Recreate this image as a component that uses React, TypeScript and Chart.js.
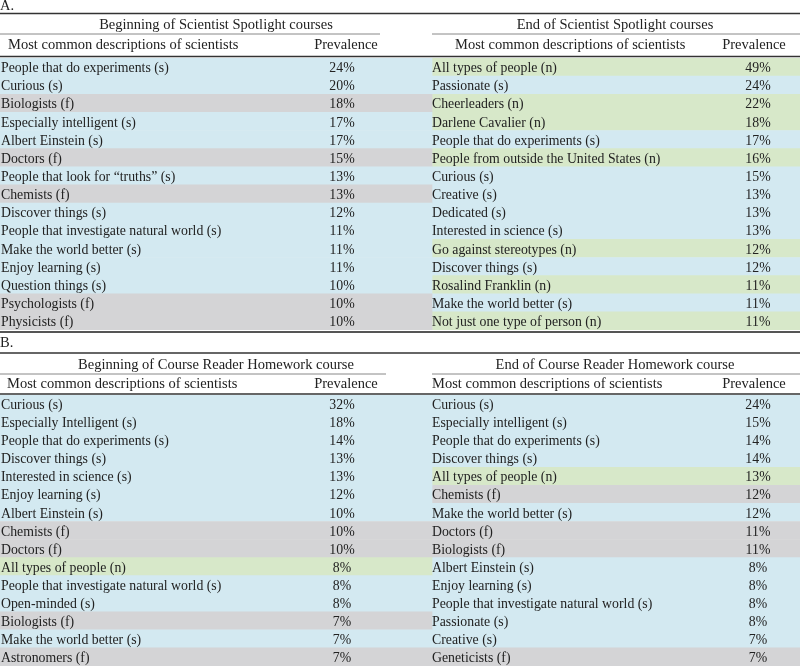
import React, { useEffect, useRef } from "react";
import { Chart, registerables } from "chart.js";

Chart.register(...registerables);

// ---------- DATA ----------
const panelALeftTitle = "Beginning of Scientist Spotlight courses";
const panelALeftLabels = [
  "People that do experiments (s)",
  "Curious (s)",
  "Biologists (f)",
  "Especially intelligent (s)",
  "Albert Einstein (s)",
  "Doctors (f)",
  "People that look for \u201Ctruths\u201D (s)",
  "Chemists (f)",
  "Discover things (s)",
  "People that investigate natural world (s)",
  "Make the world better (s)",
  "Enjoy learning (s)",
  "Question things (s)",
  "Psychologists (f)",
  "Physicists (f)",
];
const panelALeftValues = [24, 20, 18, 17, 17, 15, 13, 13, 12, 11, 11, 11, 10, 10, 10];

const panelARightTitle = "End of Scientist Spotlight courses";
const panelARightLabels = [
  "All types of people (n)",
  "Passionate (s)",
  "Cheerleaders (n)",
  "Darlene Cavalier (n)",
  "People that do experiments (s)",
  "People from outside the United States (n)",
  "Curious (s)",
  "Creative (s)",
  "Dedicated (s)",
  "Interested in science (s)",
  "Go against stereotypes (n)",
  "Discover things (s)",
  "Rosalind Franklin (n)",
  "Make the world better (s)",
  "Not just one type of person (n)",
];
const panelARightValues = [49, 24, 22, 18, 17, 16, 15, 13, 13, 13, 12, 12, 11, 11, 11];

const panelBLeftTitle = "Beginning of Course Reader Homework course";
const panelBLeftLabels = [
  "Curious (s)",
  "Especially Intelligent (s)",
  "People that do experiments (s)",
  "Discover things (s)",
  "Interested in science (s)",
  "Enjoy learning (s)",
  "Albert Einstein (s)",
  "Chemists (f)",
  "Doctors (f)",
  "All types of people (n)",
  "People that investigate natural world (s)",
  "Open-minded (s)",
  "Biologists (f)",
  "Make the world better (s)",
  "Astronomers (f)",
];
const panelBLeftValues = [32, 18, 14, 13, 13, 12, 10, 10, 10, 8, 8, 8, 7, 7, 7];

const panelBRightTitle = "End of Course Reader Homework course";
const panelBRightLabels = [
  "Curious (s)",
  "Especially intelligent (s)",
  "People that do experiments (s)",
  "Discover things (s)",
  "All types of people (n)",
  "Chemists (f)",
  "Make the world better (s)",
  "Doctors (f)",
  "Biologists (f)",
  "Albert Einstein (s)",
  "Enjoy learning (s)",
  "People that investigate natural world (s)",
  "Passionate (s)",
  "Creative (s)",
  "Geneticists (f)",
];
const panelBRightValues = [24, 15, 14, 14, 13, 12, 12, 11, 11, 8, 8, 8, 8, 7, 7];

const columnHeaderDesc = "Most common descriptions of scientists";
const columnHeaderValue = "Prevalence";

// ---------- STYLE ----------
const TYPE_COLORS: Record<string, string> = {
  s: "#d3e9f1",
  f: "#d4d4d6",
  n: "#d7e8c9",
};
const FONT = "'Liberation Serif', 'Times New Roman', serif";
const TEXT = "#222";
const BODY_PX = 13.8;
const HEAD_PX = 14.5;

function typeOf(label: string): string {
  const m = label.match(/\((\w)\)\s*$/);
  return m ? m[1] : "s";
}

type Layout = {
  height: number;
  areaTop: number;
  areaBottom: number;
  tag: string;
  tagY: number;
  topLine: number;
  subY: number;
  subLine: number;
  subLineLeftEnd: number;
  colY: number;
  colLine: number;
  bottomLine: number | null;
  leftColHeaderX: number;
  rightColHeaderX: number;
};

const SPLIT = 432;
const WIDTH = 800;

function Panel(props: {
  layout: Layout;
  leftTitle: string;
  rightTitle: string;
  leftLabels: string[];
  leftValues: number[];
  rightLabels: string[];
  rightValues: number[];
}) {
  const ref = useRef<HTMLCanvasElement | null>(null);
  const { layout, leftTitle, rightTitle, leftLabels, leftValues, rightLabels, rightValues } = props;

  useEffect(() => {
    if (!ref.current) return;
    const n = leftLabels.length;
    const idx = leftLabels.map((_, i) => String(i));

    const textPlugin = {
      id: "tableText",
      afterDatasetsDraw(chart: any) {
        const ctx = chart.ctx as CanvasRenderingContext2D;
        const xs = chart.scales.x;
        const ys = chart.scales.y;
        const X = (v: number) => xs.getPixelForValue(v);
        ctx.save();
        ctx.textBaseline = "middle";
        ctx.fillStyle = TEXT;

        // panel tag
        ctx.font = `${HEAD_PX}px ${FONT}`;
        ctx.textAlign = "left";
        ctx.fillText(layout.tag, X(0), layout.tagY);

        // subheaders
        ctx.font = `${HEAD_PX}px ${FONT}`;
        ctx.textAlign = "center";
        ctx.fillText(leftTitle, (X(0) + X(SPLIT)) / 2, layout.subY);
        ctx.fillText(rightTitle, (X(SPLIT) + X(WIDTH)) / 2 - 1, layout.subY);

        // column headers
        ctx.textAlign = "left";
        ctx.fillText(columnHeaderDesc, X(layout.leftColHeaderX), layout.colY);
        ctx.fillText(columnHeaderDesc, X(layout.rightColHeaderX), layout.colY);
        ctx.textAlign = "center";
        ctx.fillText(columnHeaderValue, X(346), layout.colY);
        ctx.fillText(columnHeaderValue, X(754), layout.colY);

        // rows
        ctx.font = `${BODY_PX}px ${FONT}`;
        for (let i = 0; i < n; i++) {
          const y = ys.getPixelForValue(i) + 1.5;
          ctx.textAlign = "left";
          ctx.fillText(leftLabels[i], X(1), y);
          ctx.fillText(rightLabels[i], X(SPLIT), y);
          ctx.textAlign = "center";
          ctx.fillText(`${leftValues[i]}%`, X(342), y);
          ctx.fillText(`${rightValues[i]}%`, X(758), y);
        }

        // rules
        const hline = (x0: number, x1: number, y: number, w: number, c: string) => {
          ctx.beginPath();
          ctx.strokeStyle = c;
          ctx.lineWidth = w;
          ctx.moveTo(X(x0), y);
          ctx.lineTo(X(x1), y);
          ctx.stroke();
        };
        hline(0, WIDTH, layout.topLine, 1.5, "#333");
        hline(0, layout.subLineLeftEnd, layout.subLine, 1, "#888");
        hline(SPLIT, WIDTH, layout.subLine, 1, "#888");
        hline(0, WIDTH, layout.colLine, 1.5, "#333");
        if (layout.bottomLine !== null) hline(0, WIDTH, layout.bottomLine, 2, "#555");
        ctx.restore();
      },
    };

    const chart = new Chart(ref.current, {
      type: "bar",
      data: {
        labels: idx,
        datasets: [
          {
            data: leftLabels.map(() => [0, SPLIT]) as any,
            backgroundColor: leftLabels.map((l) => TYPE_COLORS[typeOf(l)]),
            barPercentage: 1,
            categoryPercentage: 1,
            borderWidth: 0,
            grouped: false,
          },
          {
            data: rightLabels.map(() => [SPLIT, WIDTH]) as any,
            backgroundColor: rightLabels.map((l) => TYPE_COLORS[typeOf(l)]),
            barPercentage: 1,
            categoryPercentage: 1,
            borderWidth: 0,
            grouped: false,
          },
        ],
      },
      options: {
        indexAxis: "y",
        animation: false,
        responsive: false,
        devicePixelRatio: 1,
        layout: {
          padding: {
            top: layout.areaTop,
            bottom: layout.height - layout.areaBottom,
            left: 0,
            right: 0,
          },
        },
        plugins: {
          legend: { display: false },
          tooltip: { enabled: false },
        },
        scales: {
          x: { type: "linear", min: 0, max: WIDTH, display: false },
          y: { type: "category", display: false, offset: true },
        },
      },
      plugins: [textPlugin],
    });
    return () => chart.destroy();
  }, []);

  return (
    <canvas
      ref={ref}
      width={WIDTH}
      height={layout.height}
      style={{ display: "block", width: WIDTH, height: layout.height }}
    />
  );
}

const layoutA: Layout = {
  height: 334,
  areaTop: 58,
  areaBottom: 330,
  tag: "A.",
  tagY: 6,
  topLine: 13.5,
  subY: 25,
  subLine: 34,
  subLineLeftEnd: 380,
  colY: 45,
  colLine: 56.5,
  bottomLine: 332,
  leftColHeaderX: 8,
  rightColHeaderX: 455,
};

const layoutB: Layout = {
  height: 334,
  areaTop: 61,
  areaBottom: 332,
  tag: "B.",
  tagY: 9,
  topLine: 19,
  subY: 31,
  subLine: 40,
  subLineLeftEnd: 386,
  colY: 50.5,
  colLine: 60,
  bottomLine: null,
  leftColHeaderX: 7,
  rightColHeaderX: 432,
};

export default function App() {
  useEffect(() => {
    document.body.style.margin = "0";
  }, []);
  return (
    <div style={{ width: WIDTH, background: "#fff" }}>
      <Panel
        layout={layoutA}
        leftTitle={panelALeftTitle}
        rightTitle={panelARightTitle}
        leftLabels={panelALeftLabels}
        leftValues={panelALeftValues}
        rightLabels={panelARightLabels}
        rightValues={panelARightValues}
      />
      <Panel
        layout={layoutB}
        leftTitle={panelBLeftTitle}
        rightTitle={panelBRightTitle}
        leftLabels={panelBLeftLabels}
        leftValues={panelBLeftValues}
        rightLabels={panelBRightLabels}
        rightValues={panelBRightValues}
      />
    </div>
  );
}
